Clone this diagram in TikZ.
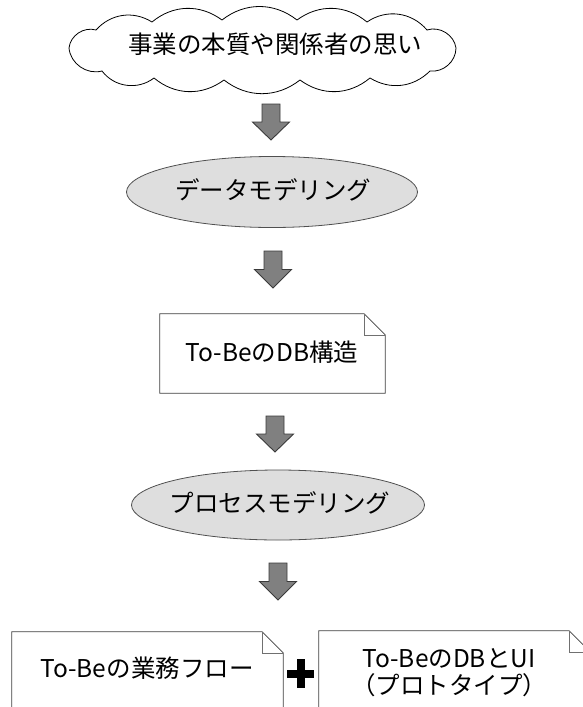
\documentclass[tikz,border=0pt]{standalone}
\usepackage{fontspec}
\setmainfont{Noto Sans CJK JP}
\usetikzlibrary{shapes.geometric,calc}
\definecolor{arrowfill}{HTML}{808080}
\definecolor{arrowline}{HTML}{3A3A3A}
\definecolor{ellfill}{HTML}{DEDEDE}
\definecolor{ellline}{HTML}{505050}
\definecolor{docline}{HTML}{404040}
\definecolor{foldline}{HTML}{707070}
\tikzset{
  txt/.style={font=\fontsize{24.5}{27}\selectfont, inner sep=0pt, align=center},
  cloudedge/.style={draw=black, line width=0.8pt, fill=white},
  ellnode/.style={ellipse, draw=ellline, fill=ellfill, line width=0.8pt, inner sep=0pt},
  blockarrow/.style={fill=arrowfill, draw=arrowline, line width=0.9pt, line join=miter},
  docframe/.style={draw=none, inner sep=0pt, rectangle},
  docedge/.style={draw=docline, line width=0.8pt},
  foldedge/.style={draw=foldline, line width=0.6pt},
  plussign/.style={fill=black, draw=none}
}
\newcommand{\downblock}[3]{%
  \path[blockarrow, shift={(#1,#2)}] (-9,0) -- (9,0) -- (9,#3/2) -- (18.5,#3/2) -- (0,#3)
     -- (-18.5,#3/2) -- (-9,#3/2) -- cycle;}
\newcommand{\docoutline}[2]{%
  \path[docedge] (#1.south west) -- (#1.north west) -- ([xshift=-#2]#1.north east)
     -- ([yshift=-#2]#1.north east) -- (#1.south east) -- cycle;
  \path[foldedge] ([xshift=-#2]#1.north east) |- ([yshift=-#2]#1.north east);}
\begin{document}
\begin{tikzpicture}[x=1pt,y=-1pt]
\useasboundingbox (0,0) rectangle (583,707);
\clip (0,0) rectangle (583,707);
\fill[white] (0,0) rectangle (583,707);

% cloud
\coordinate (cc) at (262,50);
\foreach \n/\rx/\ry in {c0/194/-2, c1/168/21, c2/108/28, c3/38/30, c4/-38/30,
    c5/-108/28, c6/-160/21, c7/-193/-2, c8/-166/-20, c9/-110/-28, c10/-40/-30,
    c11/35/-30, c12/105/-28, c13/165/-20}
  \coordinate (\n) at ($(cc)+(\rx,\ry)$);
\path[cloudedge] (c0) to[bend left=48] (c1) to[bend left=38] (c2) to[bend left=38] (c3)
  to[bend left=38] (c4) to[bend left=38] (c5) to[bend left=45] (c6) to[bend left=50] (c7)
  to[bend left=50] (c8) to[bend left=40] (c9) to[bend left=38] (c10) to[bend left=38] (c11)
  to[bend left=38] (c12) to[bend left=42] (c13) to[bend left=50] (c0);
\node[txt] (cloudtxt) at (275,44) {事業の本質や関係者の思い};

\downblock{271}{104}{36}

% ellipse 1
\node[ellnode, minimum width=291pt, minimum height=71pt] (dm) at (272,192) {};
\node[txt] (dmtxt) at (273,190) {データモデリング};

\downblock{273}{251}{37}

% doc 1
\node[docframe, minimum width=225pt, minimum height=79pt] (db) at (272.5,353.5) {};
\node[txt] (dbtxt) at (272,352) {To-BeのDB構造};
\docoutline{db}{21}

\downblock{275}{416}{36}

% ellipse 2
\node[ellnode, minimum width=293pt, minimum height=70pt] (pm) at (278,505) {};
\node[txt] (pmtxt) at (280,503) {プロセスモデリング};

\downblock{278}{563}{37}

% bottom docs
\node[docframe, minimum width=271pt, minimum height=110pt] (flow) at (147.5,687) {};
\node[txt] (flowtxt) at (147,668) {To-Beの業務フロー};
\docoutline{flow}{21}

\node[docframe, minimum width=271pt, minimum height=110pt] (ui) at (454.5,686) {};
\node[txt] (uitxt) at (449,673) {To-BeのDBとUI\\（プロトタイプ）};
\docoutline{ui}{21}

% plus
\coordinate (plus) at (300.5,673.5);
\path[plussign] ([xshift=-13.5pt,yshift=-4pt]plus) rectangle ([xshift=13.5pt,yshift=4pt]plus);
\path[plussign] ([xshift=-4pt,yshift=-14.5pt]plus) rectangle ([xshift=4pt,yshift=14.5pt]plus);
\end{tikzpicture}
\end{document}
